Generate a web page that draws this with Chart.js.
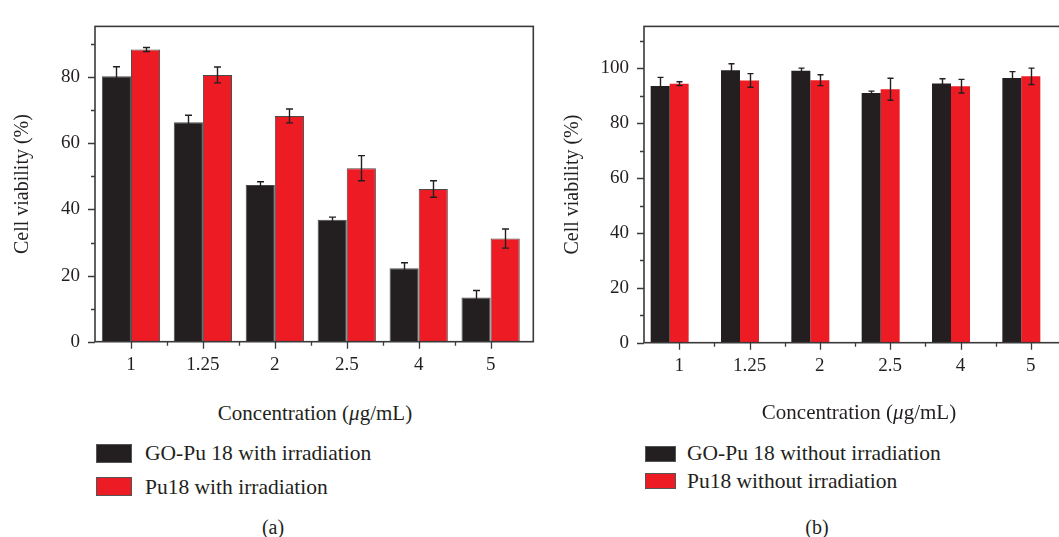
<!DOCTYPE html>
<html>
<head>
<meta charset="utf-8">
<script src="https://cdn.jsdelivr.net/npm/chart.js@4.4.1/dist/chart.umd.min.js"></script>
<style>
  body { margin: 0; width: 1059px; height: 537px; overflow: hidden; background: #fff; position: relative;
         font-family: "Liberation Serif", "DejaVu Serif", serif; color: #231f20; }
  canvas { position: absolute; top: 0; }
  #left-chart { left: 0; }
  #right-chart { left: 530px; }
  .txt { position: absolute; white-space: nowrap; line-height: 24px; }
  .xtitle { font-size: 21px; transform: translateX(-50%); }
  .leg { font-size: 21.5px; }
  .swatch { position: absolute; box-sizing: border-box; border: 1px solid #555; }
  .panel { font-size: 20px; transform: translateX(-50%); }
</style>
</head>
<body>
<canvas id="left-chart" width="545" height="400"></canvas>
<canvas id="right-chart" width="560" height="400"></canvas>

<div class="txt xtitle" style="left:315px; top:401px;">Concentration (<i>μ</i>g/mL)</div>
<div class="txt xtitle" style="left:859px; top:400px;">Concentration (<i>μ</i>g/mL)</div>

<div class="swatch" style="left:96px; top:444px; width:36px; height:19px; background:#231f20;"></div>
<div class="txt leg" style="left:145px; top:441px;">GO-Pu 18 with irradiation</div>
<div class="swatch" style="left:96px; top:477px; width:36px; height:19px; background:#ed1c24;"></div>
<div class="txt leg" style="left:145px; top:475px;">Pu18 with irradiation</div>

<div class="swatch" style="left:645px; top:446px; width:31px; height:16px; background:#231f20;"></div>
<div class="txt leg" style="left:687px; top:441px;">GO-Pu 18 without irradiation</div>
<div class="swatch" style="left:645px; top:473px; width:31px; height:16px; background:#ed1c24;"></div>
<div class="txt leg" style="left:687px; top:469px;">Pu18 without irradiation</div>

<div class="txt panel" style="left:273px; top:515px;">(a)</div>
<div class="txt panel" style="left:817px; top:515px;">(b)</div>

<script>
const concentrations = ["1", "1.25", "2", "2.5", "4", "5"];

// (a) with irradiation
const goPuIrr = [80.3, 66.4, 47.4, 36.9, 22.2, 13.4];
const goPuIrrErr = [2.9, 2.1, 1.0, 0.8, 1.7, 2.1];
const pu18Irr = [88.4, 80.7, 68.3, 52.5, 46.2, 31.2];
const pu18IrrErr = [0.6, 2.4, 2.1, 3.8, 2.5, 2.9];

// (b) without irradiation
const goPuDark = [93.6, 99.3, 99.1, 91.0, 94.5, 96.5];
const goPuDarkErr = [3.1, 2.4, 1.0, 0.7, 1.7, 2.3];
const pu18Dark = [94.4, 95.6, 95.7, 92.4, 93.5, 97.1];
const pu18DarkErr = [0.7, 2.5, 2.0, 4.0, 2.5, 3.0];

const INK = "#231f20";
const BLACK = "#231f20";
const RED = "#ed1c24";
const FONT = "'Liberation Serif', 'DejaVu Serif', serif";

// error bars from each dataset's `errors` array
const errorBars = {
  id: "errorBars",
  afterDatasetsDraw(chart, args, opts) {
    const { ctx } = chart;
    const y = chart.scales.y;
    ctx.save();
    ctx.strokeStyle = INK;
    ctx.lineWidth = 1.4;
    chart.data.datasets.forEach((ds, d) => {
      if (!ds.errors) return;
      chart.getDatasetMeta(d).data.forEach((bar, i) => {
        const v = ds.data[i], e = ds.errors[i];
        const x = Math.round(bar.x) + 0.5;
        const top = y.getPixelForValue(v + e);
        const bot = y.getPixelForValue(v - e);
        const cap = opts.cap / 2;
        ctx.beginPath();
        ctx.moveTo(x, top); ctx.lineTo(x, bot);
        ctx.moveTo(x - cap, top); ctx.lineTo(x + cap, top);
        ctx.moveTo(x - cap, bot); ctx.lineTo(x + cap, bot);
        ctx.stroke();
      });
    });
    ctx.restore();
  },
};

// box frame plus major/minor tick marks
const frame = {
  id: "frame",
  afterDraw(chart, args, opts) {
    const { ctx, chartArea: a } = chart;
    const { x, y } = chart.scales;
    ctx.save();
    ctx.strokeStyle = "#3a3a3a";
    ctx.lineWidth = 1.6;
    ctx.strokeRect(a.left, a.top, a.right + opts.extra - a.left, a.bottom - a.top);
    ctx.beginPath();
    ctx.lineWidth = 1.3;
    for (let v = 0; v <= y.max; v += 10) {
      const py = Math.round(y.getPixelForValue(v)) + 0.5;
      const len = v % 20 === 0 ? 7 : 4;
      ctx.moveTo(a.left - len, py); ctx.lineTo(a.left, py);
    }
    const n = concentrations.length;
    for (let i = 0; i < n; i++) {
      const px = Math.round(x.getPixelForValue(i)) + 0.5;
      ctx.moveTo(px, a.bottom); ctx.lineTo(px, a.bottom + 7);
      if (i < n - 1) {
        const mid = Math.round((x.getPixelForValue(i) + x.getPixelForValue(i + 1)) / 2) + 0.5;
        ctx.moveTo(mid, a.bottom); ctx.lineTo(mid, a.bottom + 4);
      }
    }
    ctx.stroke();
    ctx.restore();
  },
};

function makeChart(id, datasets, o) {
  return new Chart(document.getElementById(id), {
    type: "bar",
    data: { labels: concentrations, datasets },
    plugins: [errorBars, frame],
    options: {
      responsive: false,
      animation: false,
      layout: { padding: { left: 0, top: o.top, right: o.right, bottom: 0 } },
      datasets: { bar: { categoryPercentage: 0.81, barPercentage: 1 } },
      scales: {
        x: {
          grid: { display: false, drawTicks: false },
          border: { display: false },
          ticks: { color: INK, padding: 12, font: { family: FONT, size: 19 } },
          afterFit: (s) => { s.height = o.xHeight; },
        },
        y: {
          min: 0,
          max: o.max,
          grid: { display: false, drawTicks: false },
          border: { display: false },
          ticks: { stepSize: 20, includeBounds: false, color: INK, padding: 15,
                   font: { family: FONT, size: 19 } },
          title: { display: true, text: "Cell viability (%)", color: INK,
                   padding: { top: o.titlePad, bottom: 0 }, font: { family: FONT, size: 20 } },
          afterFit: (s) => { s.width = o.yWidth; },
        },
      },
      plugins: {
        legend: { display: false },
        tooltip: { enabled: false },
        errorBars: { cap: o.cap },
        frame: { extra: o.extra },
      },
    },
  });
}

makeChart("left-chart", [
  { label: "GO-Pu 18 with irradiation", data: goPuIrr, errors: goPuIrrErr,
    backgroundColor: BLACK, borderColor: "#4a4a4a", borderWidth: 1 },
  { label: "Pu18 with irradiation", data: pu18Irr, errors: pu18IrrErr,
    backgroundColor: RED, borderColor: "#4a4a4a", borderWidth: 1 },
], { top: 15, right: 18.4, xHeight: 58.3, yWidth: 95, max: 95.4, titlePad: 11, cap: 7, extra: 6.7 });

// third empty dataset keeps the red bar centred on its tick, as in the original
makeChart("right-chart", [
  { label: "GO-Pu 18 without irradiation", data: goPuDark, errors: goPuDarkErr,
    backgroundColor: BLACK, borderWidth: 0 },
  { label: "Pu18 without irradiation", data: pu18Dark, errors: pu18DarkErr,
    backgroundColor: RED, borderWidth: 0 },
  { label: "", data: [] },
], { top: 23.3, right: 24, xHeight: 57.3, yWidth: 114, max: 115.3, titlePad: 31, cap: 6, extra: 0 });
</script>
</body>
</html>
